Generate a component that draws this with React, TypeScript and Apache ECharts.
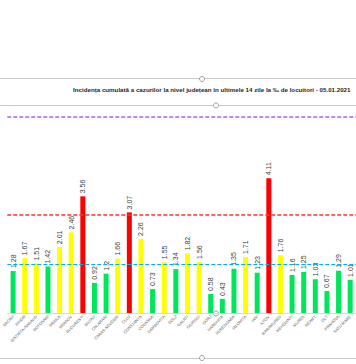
import React, { useEffect, useRef } from "react";
import * as echarts from "echarts";

const categories = [
  "BACAU", "BIHOR", "BISTRITA-NASAUD", "BOTOSANI", "BRAILA", "BRASOV", "BUCURESTI",
  "BUZAU", "CALARASI", "CARAS-SEVERIN", "CLUJ", "CONSTANTA", "COVASNA", "DAMBOVITA",
  "DOLJ", "GALATI", "GIURGIU", "GORJ", "HARGHITA", "HUNEDOARA", "IALOMITA", "IASI",
  "ILFOV", "MARAMURES", "MEHEDINTI", "MURES", "NEAMT", "OLT", "PRAHOVA", "SATU MARE",
];
const values = [
  1.28, 1.67, 1.51, 1.42, 2.01, 2.46, 3.56, 0.92, 1.2, 1.66, 3.07, 2.26, 0.73, 1.55,
  1.34, 1.82, 1.56, 0.58, 0.43, 1.35, 1.71, 1.23, 4.11, 1.76, 1.16, 1.25, 1.03, 0.67,
  1.29, 1.01,
];
const thresholds = [1.5, 3, 6];
const titleText =
  "Incidența cumulată a cazurilor la nivel județean în ultimele 14 zile la ‰ de locuitori - 05.01.2021";

const colorFor = (v: number) => (v > 3 ? "#FF0000" : v >= 1.5 ? "#FFFF00" : "#00E65A");

export default function App() {
  const ref = useRef<HTMLDivElement>(null);
  useEffect(() => {
    if (!ref.current) return;
    const chart = echarts.init(ref.current, undefined, { renderer: "svg" });
    const frameColor = "#C8C8C8";
    chart.setOption({
      animation: false,
      backgroundColor: "#FFFFFF",
      title: {
        text: titleText,
        left: 68,
        top: 81,
        textStyle: {
          fontSize: 6.2,
          fontWeight: "bold",
          color: "#262626",
          fontFamily: "Liberation Sans",
        },
      },
      grid: { left: 0, right: -4, top: 100, bottom: 51 },
      xAxis: {
        type: "category",
        data: categories,
        axisLine: { show: true, lineStyle: { color: "#D9D9D9", width: 1 } },
        axisTick: { show: false },
        axisLabel: {
          interval: 0,
          rotate: 45,
          fontSize: 4,
          color: "#595959",
          margin: 3,
          fontFamily: "Liberation Sans",
        },
      },
      yAxis: {
        type: "value",
        min: 0,
        max: 6.5,
        show: false,
        splitLine: { show: false },
      },
      series: [
        {
          type: "bar",
          barWidth: 5,
          data: values.map((v) => ({ value: v, itemStyle: { color: colorFor(v) } })),
          label: {
            show: true,
            position: "top",
            rotate: 90,
            align: "left",
            verticalAlign: "middle",
            distance: 3,
            fontSize: 7,
            color: "#404040",
            fontFamily: "Liberation Sans",
          },
          markLine: {
            silent: true,
            symbol: "none",
            label: { show: false },
            data: [
              { yAxis: thresholds[0], lineStyle: { color: "#00B0F0", type: [4, 2], width: 1.2 } },
              { yAxis: thresholds[1], lineStyle: { color: "#FF3333", type: [4, 2], width: 1.5 } },
              { yAxis: thresholds[2], lineStyle: { color: "#A866DD", type: [4, 2], width: 1.5 } },
            ],
          },
        },
      ],
      graphic: [
        { type: "line", shape: { x1: 0, y1: 78.5, x2: 356, y2: 78.5 }, style: { stroke: frameColor, lineWidth: 1 } },
        { type: "line", shape: { x1: 0, y1: 105.5, x2: 356, y2: 105.5 }, style: { stroke: frameColor, lineWidth: 1 } },
        { type: "line", shape: { x1: 0, y1: 358.5, x2: 356, y2: 358.5 }, style: { stroke: frameColor, lineWidth: 1 } },
        { type: "circle", shape: { cx: 202, cy: 79, r: 2.5 }, style: { fill: "#FFFFFF", stroke: "#A0A0A0", lineWidth: 1 } },
        { type: "circle", shape: { cx: 216, cy: 105.5, r: 2.5 }, style: { fill: "#FFFFFF", stroke: "#A0A0A0", lineWidth: 1 } },
        { type: "circle", shape: { cx: 216, cy: 313.5, r: 2.5 }, style: { fill: "#FFFFFF", stroke: "#A0A0A0", lineWidth: 1 } },
        { type: "circle", shape: { cx: 202, cy: 358, r: 2.5 }, style: { fill: "#FFFFFF", stroke: "#A0A0A0", lineWidth: 1 } },
      ],
    });
    return () => chart.dispose();
  }, []);
  return (
    <div
      ref={ref}
      style={{ position: "fixed", left: 0, top: 0, width: 356, height: 364, background: "#fff" }}
    />
  );
}
